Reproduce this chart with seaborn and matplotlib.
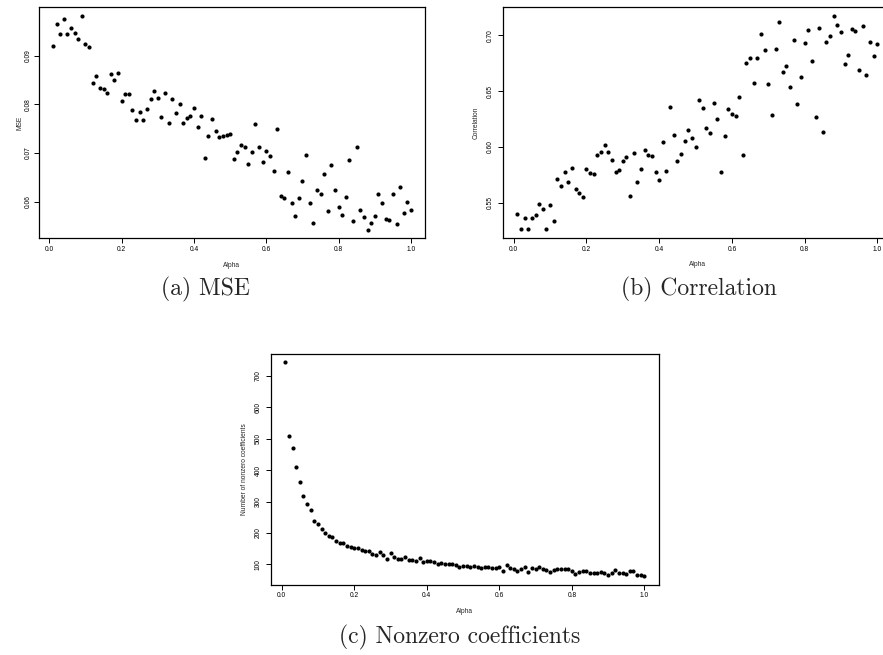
import matplotlib
matplotlib.use("Agg")
import matplotlib.pyplot as plt
import seaborn as sns
import pandas as pd

# Elastic-net mixing parameter grid
alpha = [
    0.01, 0.02, 0.03, 0.04, 0.05, 0.06, 0.07, 0.08, 0.09, 0.10,
    0.11, 0.12, 0.13, 0.14, 0.15, 0.16, 0.17, 0.18, 0.19, 0.20,
    0.21, 0.22, 0.23, 0.24, 0.25, 0.26, 0.27, 0.28, 0.29, 0.30,
    0.31, 0.32, 0.33, 0.34, 0.35, 0.36, 0.37, 0.38, 0.39, 0.40,
    0.41, 0.42, 0.43, 0.44, 0.45, 0.46, 0.47, 0.48, 0.49, 0.50,
    0.51, 0.52, 0.53, 0.54, 0.55, 0.56, 0.57, 0.58, 0.59, 0.60,
    0.61, 0.62, 0.63, 0.64, 0.65, 0.66, 0.67, 0.68, 0.69, 0.70,
    0.71, 0.72, 0.73, 0.74, 0.75, 0.76, 0.77, 0.78, 0.79, 0.80,
    0.81, 0.82, 0.83, 0.84, 0.85, 0.86, 0.87, 0.88, 0.89, 0.90,
    0.91, 0.92, 0.93, 0.94, 0.95, 0.96, 0.97, 0.98, 0.99, 1.00,
]

mse = [
    0.0920, 0.0965, 0.0945, 0.0975, 0.0944, 0.0957, 0.0947, 0.0934, 0.0982, 0.0923,
    0.0917, 0.0844, 0.0858, 0.0834, 0.0831, 0.0822, 0.0863, 0.0850, 0.0865, 0.0807,
    0.0821, 0.0820, 0.0788, 0.0768, 0.0785, 0.0768, 0.0790, 0.0811, 0.0827, 0.0813,
    0.0774, 0.0824, 0.0761, 0.0811, 0.0781, 0.0801, 0.0761, 0.0771, 0.0775, 0.0793,
    0.0754, 0.0776, 0.0690, 0.0735, 0.0769, 0.0744, 0.0733, 0.0735, 0.0736, 0.0739,
    0.0688, 0.0702, 0.0717, 0.0712, 0.0677, 0.0702, 0.0759, 0.0713, 0.0682, 0.0703,
    0.0694, 0.0662, 0.0750, 0.0612, 0.0608, 0.0660, 0.0598, 0.0571, 0.0608, 0.0643,
    0.0695, 0.0597, 0.0557, 0.0624, 0.0616, 0.0657, 0.0580, 0.0675, 0.0624, 0.0589,
    0.0572, 0.0609, 0.0685, 0.0561, 0.0713, 0.0582, 0.0568, 0.0542, 0.0557, 0.0570,
    0.0616, 0.0597, 0.0564, 0.0562, 0.0616, 0.0553, 0.0630, 0.0577, 0.0599, 0.0583,
]

correlation = [
    0.5397, 0.5263, 0.5364, 0.5260, 0.5364, 0.5391, 0.5484, 0.5444, 0.5260, 0.5480,
    0.5337, 0.5711, 0.5651, 0.5773, 0.5686, 0.5809, 0.5621, 0.5582, 0.5547, 0.5803,
    0.5762, 0.5753, 0.5928, 0.5953, 0.6015, 0.5953, 0.5884, 0.5776, 0.5791, 0.5872,
    0.5905, 0.5558, 0.5946, 0.5681, 0.5797, 0.5970, 0.5926, 0.5917, 0.5776, 0.5702,
    0.6039, 0.5782, 0.6356, 0.6105, 0.5869, 0.5935, 0.6048, 0.6152, 0.6078, 0.5997,
    0.6421, 0.6347, 0.6170, 0.6120, 0.6389, 0.6251, 0.5776, 0.6099, 0.6338, 0.6296,
    0.6272, 0.6445, 0.5923, 0.6750, 0.6792, 0.6568, 0.6797, 0.7010, 0.6867, 0.6565,
    0.6281, 0.6873, 0.7117, 0.6672, 0.6726, 0.6535, 0.6959, 0.6385, 0.6622, 0.6929,
    0.7048, 0.6771, 0.6263, 0.7066, 0.6132, 0.6938, 0.6989, 0.7174, 0.7093, 0.7025,
    0.6738, 0.6824, 0.7055, 0.7039, 0.6687, 0.7082, 0.6645, 0.6938, 0.6810, 0.6918,
]

nonzero = [
    744, 510, 471, 411, 361, 317, 293, 274, 239, 229,
    213, 200, 189, 187, 173, 169, 168, 159, 156, 153,
    151, 146, 141, 143, 134, 131, 138, 129, 116, 135,
    124, 118, 118, 122, 114, 115, 112, 121, 107, 111,
    110, 108, 100, 104, 100, 102, 102, 98, 92, 96,
    94, 93, 95, 90, 87, 92, 90, 88, 88, 90,
    80, 98, 89, 86, 80, 85, 90, 75, 89, 84,
    90, 86, 82, 77, 81, 84, 85, 84, 86, 80,
    70, 77, 78, 80, 73, 72, 71, 76, 71, 67,
    71, 81, 73, 72, 69, 78, 78, 67, 67, 63,
]

x_ticks = [0.0, 0.2, 0.4, 0.6, 0.8, 1.0]
x_ticklabels = ["0.0", "0.2", "0.4", "0.6", "0.8", "1.0"]
mse_ticks = [0.06, 0.07, 0.08, 0.09]
mse_ticklabels = ["0.06", "0.07", "0.08", "0.09"]
corr_ticks = [0.55, 0.60, 0.65, 0.70]
corr_ticklabels = ["0.55", "0.60", "0.65", "0.70"]
nz_ticks = [100, 200, 300, 400, 500, 600, 700]
nz_ticklabels = ["100", "200", "300", "400", "500", "600", "700"]

captions = ["(a) MSE", "(b) Correlation", "(c) Nonzero coefficients"]

df = pd.DataFrame({"Alpha": alpha, "MSE": mse, "Correlation": correlation,
                   "Nonzero": nonzero})

sns.set_theme(style="ticks")
plt.rcParams["font.family"] = ["Liberation Sans", "DejaVu Sans"]

fig = plt.figure(figsize=(8.83, 6.55), dpi=100)
W, H = 883.0, 655.0


def panel(left, top, right, bottom):
    return fig.add_axes([left / W, 1 - bottom / H, (right - left) / W,
                         (bottom - top) / H])


def draw(ax, ycol, ylabel, yticks, yticklabels, ytick_pad, ylab_off):
    sns.scatterplot(data=df, x="Alpha", y=ycol, ax=ax, color="black", s=9,
                    linewidth=0, legend=False)
    ax.margins(x=0.04, y=0.04)
    ax.set_xticks(x_ticks)
    ax.set_xticklabels(x_ticklabels)
    ax.set_yticks(yticks)
    ax.set_yticklabels(yticklabels)
    for s in ax.spines.values():
        s.set_visible(True)
        s.set_color("black")
        s.set_linewidth(0.9)
    ax.tick_params(direction="out", length=3.3, width=0.7, labelsize=4.8,
                   colors="black")
    ax.tick_params(axis="x", pad=2.2)
    ax.tick_params(axis="y", pad=ytick_pad, labelrotation=90)
    for lab in ax.get_yticklabels():
        lab.set_va("center")
    ax.set_xlabel("Alpha", fontsize=4.8)
    ax.set_ylabel(ylabel, fontsize=4.8)
    h = ax.get_window_extent().height
    w = ax.get_window_extent().width
    ax.xaxis.set_label_coords(0.5, -23.5 / h)
    ax.yaxis.set_label_coords(-ylab_off / w, 0.5)


ax_a = panel(38.6, 7.0, 425.3, 238.4)
draw(ax_a, "MSE", "MSE", mse_ticks, mse_ticklabels, 1.4, 15.0)

ax_b = panel(503.0, 7.2, 891.7, 238.0)
draw(ax_b, "Correlation", "Correlation", corr_ticks, corr_ticklabels, 3.4, 23.4)

ax_c = panel(271.0, 353.5, 658.7, 584.5)
draw(ax_c, "Nonzero", "Number of nonzero coefficients", nz_ticks, nz_ticklabels,
     3.4, 23.4)

cap_kw = dict(ha="center", va="center", fontsize=17, family="cmr10")
fig.text(205 / W, 1 - 289 / H, captions[0], **cap_kw)
fig.text(699 / W, 1 - 289 / H, captions[1], **cap_kw)
fig.text(459.5 / W, 1 - 637 / H, captions[2], **cap_kw)

fig.savefig("out.png", dpi=100)
